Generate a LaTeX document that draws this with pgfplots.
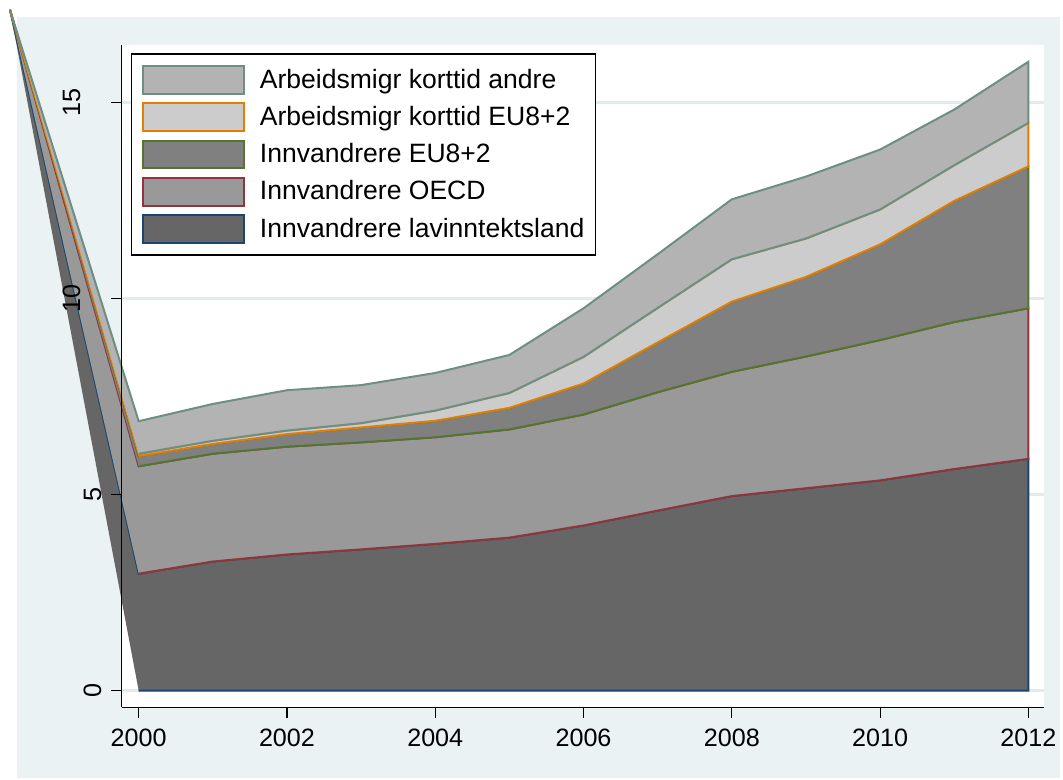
\documentclass[border=0pt]{standalone}
\usepackage{fontspec}
\setmainfont{Liberation Sans}
\usepackage{pgfplots}
\pgfplotsset{compat=1.18}
\definecolor{bgblue}{RGB}{234,242,243}
\definecolor{gridc}{RGB}{226,236,239}
\definecolor{stteal}{RGB}{110,142,132}
\definecolor{storange}{RGB}{227,126,0}
\definecolor{stgreen}{RGB}{85,117,47}
\definecolor{stmaroon}{RGB}{144,53,59}
\definecolor{stnavy}{RGB}{26,71,111}
\definecolor{fandre}{RGB}{179,179,179}
\definecolor{fkeu}{RGB}{204,204,204}
\definecolor{feu}{RGB}{128,128,128}
\definecolor{foecd}{RGB}{153,153,153}
\definecolor{flav}{RGB}{102,102,102}
\pgfplotsset{swatch/.style 2 args={legend image code/.code={%
    \draw[draw=#1, fill=#2, line width=1pt] (0pt,-7pt) rectangle (50.5pt,7pt);}}}

\begin{document}
\begin{tikzpicture}
% page and graph background (1 px = 0.5pt, axis box corner at origin)
\fill[white] (-61pt,-36pt) rectangle (470.5pt,354.5pt);
\fill[bgblue] (-52.5pt,-35.5pt) rectangle (470.5pt,346pt);
\begin{axis}[
    scale only axis, width=462.5pt, height=332pt,
    xmin=1999.771, xmax=2012.216, ymin=-0.427, ymax=16.47,
    clip=false, axis on top,
    axis x line*=bottom, axis y line*=left,
    axis line style={-, black, line width=0.6pt},
    axis background/.style={fill=white},
    xtick={2000,2002,...,2012},
    ytick={0,5}, extra y ticks={10,15},
    extra y tick style={yticklabel shift=11.8pt},
    tick align=outside, major tick length=5.4pt,
    tick style={black, line width=0.6pt},
    tick label style={font=\fontsize{12.6}{14}\selectfont},
    /pgf/number format/assume math mode=true,
    /pgf/number format/1000 sep={},
    xticklabel shift=1.8pt,
    yticklabel style={rotate=90, anchor=south},
    yticklabel shift=1.3pt,
    reverse legend,
    legend cell align=left,
    legend style={at={(0.0097,0.9872)}, anchor=north west,
        draw=black, line width=0.6pt, fill=white,
        inner xsep=5.5pt, inner ysep=5.5pt, row sep=3.7pt, column sep=7.5pt,
        nodes={inner sep=0pt, text=black},
        font=\fontsize{13.3}{15}\selectfont},
]
% horizontal grid lines, under the areas
\foreach \g in {0,5,10,15} {
    \edef\tmp{\noexpand\draw[gridc, line width=1.3pt] (axis cs:1999.771,\g) -- (axis cs:2012.216,\g);}\tmp
}
% Innvandrere lavinntektsland (0 to c1)
\addplot[fill=flav, draw=none, forget plot] coordinates {
    (1998.264,17.367)
    (2000,2.98)(2001,3.29)(2002,3.47)(2003,3.60)(2004,3.74)(2005,3.90)(2006,4.21)
    (2007,4.59)(2008,4.96)(2009,5.16)(2010,5.36)(2011,5.65)(2012,5.91)
    (2012,0)(2000,0)} -- cycle;
\addplot[draw=stnavy, line width=1pt, swatch={stnavy}{flav}] coordinates {
    (1998.264,17.367)
    (2000,2.98)(2001,3.29)(2002,3.47)(2003,3.60)(2004,3.74)(2005,3.90)(2006,4.21)
    (2007,4.59)(2008,4.96)(2009,5.16)(2010,5.36)(2011,5.65)(2012,5.91)
    (2012,0)(2000,0)};
\addlegendentry{Innvandrere lavinntektsland}
% Innvandrere OECD (c1 to c2)
\addplot[fill=foecd, draw=none, forget plot] coordinates {
    (1998.264,17.367)
    (2000,5.72)(2001,6.04)(2002,6.22)(2003,6.33)(2004,6.46)(2005,6.66)(2006,7.04)
    (2007,7.61)(2008,8.13)(2009,8.52)(2010,8.94)(2011,9.40)(2012,9.75)
    (2012,5.91)(2011,5.65)(2010,5.36)(2009,5.16)(2008,4.96)(2007,4.59)(2006,4.21)
    (2005,3.90)(2004,3.74)(2003,3.60)(2002,3.47)(2001,3.29)(2000,2.98)} -- cycle;
\addplot[draw=stmaroon, line width=1pt, swatch={stmaroon}{foecd}] coordinates {
    (1998.264,17.367)
    (2000,5.72)(2001,6.04)(2002,6.22)(2003,6.33)(2004,6.46)(2005,6.66)(2006,7.04)
    (2007,7.61)(2008,8.13)(2009,8.52)(2010,8.94)(2011,9.40)(2012,9.75)
    (2012,5.91)(2011,5.65)(2010,5.36)(2009,5.16)(2008,4.96)(2007,4.59)(2006,4.21)
    (2005,3.90)(2004,3.74)(2003,3.60)(2002,3.47)(2001,3.29)(2000,2.98)};
\addlegendentry{Innvandrere OECD}
% Innvandrere EU8+2 (c2 to c3)
\addplot[fill=feu, draw=none, forget plot] coordinates {
    (1998.264,17.367)
    (2000,5.98)(2001,6.29)(2002,6.54)(2003,6.71)(2004,6.88)(2005,7.21)(2006,7.83)
    (2007,8.88)(2008,9.92)(2009,10.55)(2010,11.38)(2011,12.49)(2012,13.37)
    (2012,9.75)(2011,9.40)(2010,8.94)(2009,8.52)(2008,8.13)(2007,7.61)(2006,7.04)
    (2005,6.66)(2004,6.46)(2003,6.33)(2002,6.22)(2001,6.04)(2000,5.72)} -- cycle;
\addplot[draw=stgreen, line width=1pt, swatch={stgreen}{feu}] coordinates {
    (1998.264,17.367)
    (2000,5.98)(2001,6.29)(2002,6.54)(2003,6.71)(2004,6.88)(2005,7.21)(2006,7.83)
    (2007,8.88)(2008,9.92)(2009,10.55)(2010,11.38)(2011,12.49)(2012,13.37)
    (2012,9.75)(2011,9.40)(2010,8.94)(2009,8.52)(2008,8.13)(2007,7.61)(2006,7.04)
    (2005,6.66)(2004,6.46)(2003,6.33)(2002,6.22)(2001,6.04)(2000,5.72)};
\addlegendentry{Innvandrere EU8+2}
% Arbeidsmigr korttid EU8+2 (c3 to c4)
\addplot[fill=fkeu, draw=none, forget plot] coordinates {
    (1998.264,17.367)
    (2000,6.04)(2001,6.37)(2002,6.63)(2003,6.82)(2004,7.14)(2005,7.59)(2006,8.51)
    (2007,9.76)(2008,11.00)(2009,11.53)(2010,12.27)(2011,13.40)(2012,14.48)
    (2012,13.37)(2011,12.49)(2010,11.38)(2009,10.55)(2008,9.92)(2007,8.88)(2006,7.83)
    (2005,7.21)(2004,6.88)(2003,6.71)(2002,6.54)(2001,6.29)(2000,5.98)} -- cycle;
\addplot[draw=storange, line width=1pt, swatch={storange}{fkeu}] coordinates {
    (1998.264,17.367)
    (2000,6.04)(2001,6.37)(2002,6.63)(2003,6.82)(2004,7.14)(2005,7.59)(2006,8.51)
    (2007,9.76)(2008,11.00)(2009,11.53)(2010,12.27)(2011,13.40)(2012,14.48)
    (2012,13.37)(2011,12.49)(2010,11.38)(2009,10.55)(2008,9.92)(2007,8.88)(2006,7.83)
    (2005,7.21)(2004,6.88)(2003,6.71)(2002,6.54)(2001,6.29)(2000,5.98)};
\addlegendentry{Arbeidsmigr korttid EU8+2}
% Arbeidsmigr korttid andre (c4 to c5)
\addplot[fill=fandre, draw=none, forget plot] coordinates {
    (1998.264,17.367)
    (2000,6.87)(2001,7.31)(2002,7.66)(2003,7.79)(2004,8.10)(2005,8.56)(2006,9.75)
    (2007,11.13)(2008,12.53)(2009,13.11)(2010,13.80)(2011,14.82)(2012,16.04)
    (2012,14.48)(2011,13.40)(2010,12.27)(2009,11.53)(2008,11.00)(2007,9.76)(2006,8.51)
    (2005,7.59)(2004,7.14)(2003,6.82)(2002,6.63)(2001,6.37)(2000,6.04)} -- cycle;
\addplot[draw=stteal, line width=1pt, swatch={stteal}{fandre}] coordinates {
    (1998.264,17.367)
    (2000,6.87)(2001,7.31)(2002,7.66)(2003,7.79)(2004,8.10)(2005,8.56)(2006,9.75)
    (2007,11.13)(2008,12.53)(2009,13.11)(2010,13.80)(2011,14.82)(2012,16.04)
    (2012,14.48)(2011,13.40)(2010,12.27)(2009,11.53)(2008,11.00)(2007,9.76)(2006,8.51)
    (2005,7.59)(2004,7.14)(2003,6.82)(2002,6.63)(2001,6.37)(2000,6.04)};
\addlegendentry{Arbeidsmigr korttid andre}
\end{axis}
\end{tikzpicture}
\end{document}
